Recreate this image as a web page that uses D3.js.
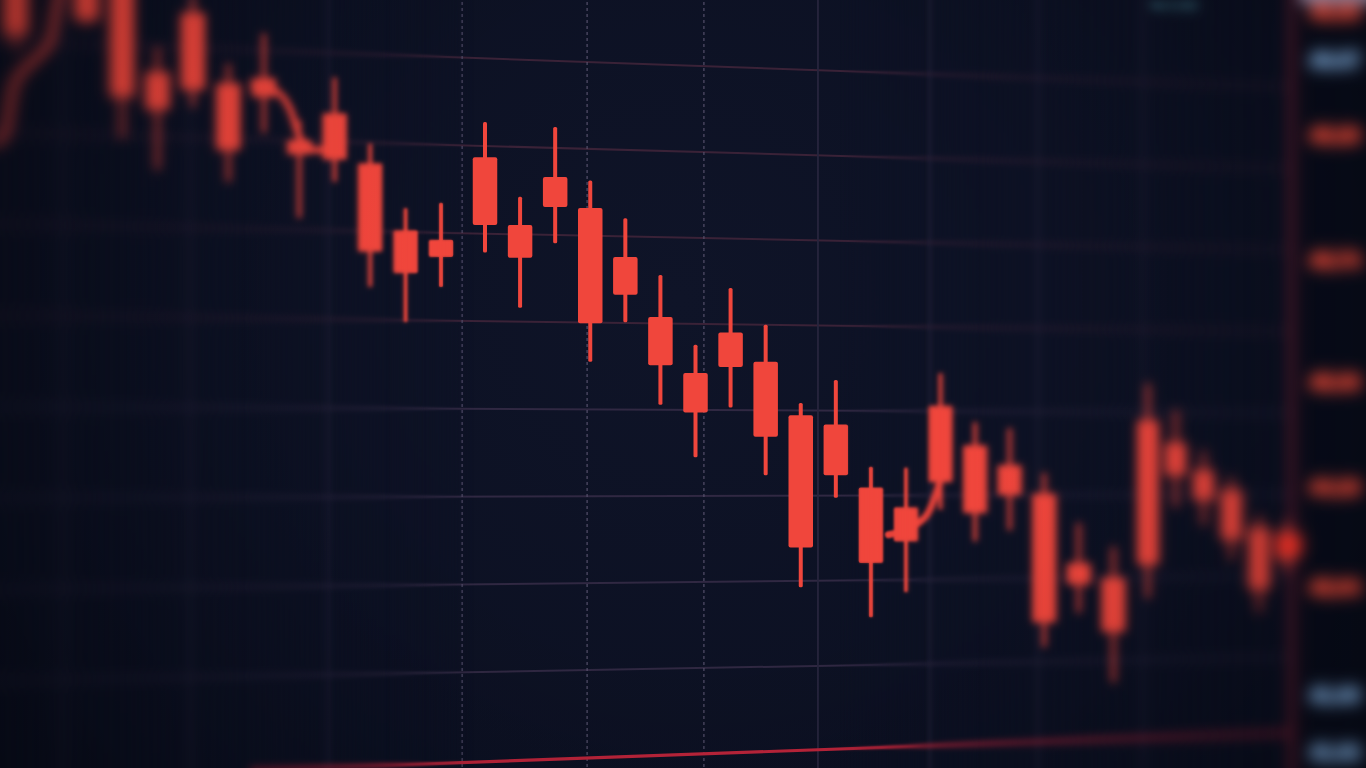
<!DOCTYPE html>
<html><head><meta charset="utf-8">
<script src="https://cdn.jsdelivr.net/npm/d3@7/dist/d3.min.js"></script>
<style>html,body{margin:0;padding:0;background:#0a0e1c;overflow:hidden;}svg{display:block}</style>
</head><body>
<svg id="chart" width="1366" height="768"></svg>
<script>
// ---------------- data ----------------
const candleIndex = [-3,-1,0,1,2,3,4,5,6,7,8,9,10,11,12,13,14,15,16,17,18,19,20,21,22,23,24,25,26,27,28,29,30,31,32,33,34];
const candleOpen  = [50.20,50.10,49.95,48.93,49.62,48.80,48.86,48.14,48.45,47.87,47.09,46.98,47.94,47.15,47.71,47.35,46.78,46.08,45.43,45.90,45.56,44.94,44.83,44.10,43.87,45.05,44.59,44.36,44.03,43.22,43.05,44.88,44.62,44.30,44.07,43.63,43.58];
const candleHigh  = [50.30,50.20,50.00,49.22,49.83,49.03,49.38,48.37,48.87,48.10,47.35,47.41,48.35,47.48,48.29,47.67,47.23,46.57,45.76,46.42,45.99,45.08,45.35,44.34,44.33,45.43,44.86,44.79,44.27,43.69,43.41,45.31,45.00,44.53,44.22,43.78,43.72];
const candleLow   = [49.19,49.48,48.16,47.79,48.52,47.65,48.22,47.23,47.65,46.43,46.02,46.43,46.83,46.19,46.94,45.56,46.02,45.06,44.45,45.03,44.24,42.94,43.98,42.59,42.88,43.84,43.47,43.60,42.24,42.64,41.83,42.81,43.87,43.66,43.26,42.65,43.12];
const candleClose = [49.36,49.53,48.64,48.49,48.72,48.02,48.64,47.97,47.91,46.84,46.59,46.78,47.15,46.77,47.36,46.01,46.34,45.52,44.97,45.50,44.69,43.40,44.24,43.22,43.47,44.16,43.80,44.01,42.53,42.97,42.42,43.20,44.24,43.95,43.49,42.91,43.26];

// moving-average line (null = gap)
const maIndex = [-3.6,-3.3,-3.05,-2.54,-2.03,-1.81,-1.69, 0, 3.7,4.3,4.75,5.05,5.5,5.9, 10, 21.5,22.26,22.69,23.0];
const maValue = [48.10,48.22,48.78,49.05,49.28,49.77,50.00, null, 48.78,48.72,48.49,48.14,48.02,48.05, null, 43.55,43.66,43.84,44.19];

const priceGrid = [49,48,47,46,45,44,43,42];
const timeGrid  = [-1.66,1.92,5.81,9.48,12.91,16.24,19.49,22.69,25.82,28.86];
const baselinePrice = 41;
const axisTickValues = [49.63,49.07,48.20,46.74,45.33,44.10,42.94,41.69,41.02];
const axisTickKind   = ["down","info","down","down","down","down","down","info","info"];
const lastPrice = 43.43;
const headerText = "Vol 2.41K";

// ---------------- setup ----------------
const W = 1366, H = 768;
const RED = "#f0463c";
const svg = d3.select("#chart");
const defs = svg.append("defs");

// perspective-like piecewise time scale and price scale
const x = d3.scaleLinear().domain([0,9,10,22,29,34]).range([122,441,485,906,1148,1287]);
const y = d3.scaleLinear().domain([48,41]).range([152,754]);

// depth-of-field profile (blur std by screen x)
const blurAt = d3.scaleLinear()
  .domain([-100,0,120,230,300,340,370,405,440,470,840,880,910,945,1010,1100,1150,1200,1285,1310,1466])
  .range([9,8,6.5,5,3.8,3,2.4,1.5,0.6,0,0,0.8,1.5,2.7,3.8,5,5.6,6.2,6.8,8,8.5]).clamp(true);
const levels = [0,1,2,3.3,4.8,6.5,8.5];

// background gradient
const bg = defs.append("radialGradient").attr("id","bgGrad").attr("gradientUnits","userSpaceOnUse")
  .attr("cx",680).attr("cy",300).attr("r",950);
bg.append("stop").attr("offset",0).attr("stop-color","#0f1428");
bg.append("stop").attr("offset",1).attr("stop-color","#090d1d");

// blur filters
levels.forEach((s,i)=>{
  if(i===0) return;
  defs.append("filter").attr("id","blur"+i).attr("filterUnits","userSpaceOnUse")
    .attr("color-interpolation-filters","sRGB")
    .attr("x",-200).attr("y",-200).attr("width",W+400).attr("height",H+400)
    .append("feGaussianBlur").attr("stdDeviation",s);
});

// crossfade masks
const xs = d3.range(0, W+1, 6);
const weights = xs.map(px=>{
  const b = blurAt(px);
  const w = levels.map(()=>0);
  let k = 0;
  while(k < levels.length-2 && b > levels[k+1]) k++;
  const f = Math.max(0, Math.min(1, (b-levels[k])/(levels[k+1]-levels[k])));
  w[k] = 1-f; w[k+1] = f;
  return w;
});
levels.forEach((s,i)=>{
  if(i===0) return;
  const gr = defs.append("linearGradient").attr("id","mg"+i).attr("gradientUnits","userSpaceOnUse")
    .attr("x1",0).attr("x2",W).attr("y1",0).attr("y2",0);
  xs.forEach((px,j)=>{
    const w = weights[j];
    let cum = 0; for(let q=0;q<=i;q++) cum += w[q];
    const m = cum > 1e-6 ? w[i]/cum : 0;
    gr.append("stop").attr("offset", px/W).attr("stop-color","#fff").attr("stop-opacity", m.toFixed(4));
  });
  defs.append("mask").attr("id","mask"+i).attr("maskUnits","userSpaceOnUse")
    .attr("x",-200).attr("y",-200).attr("width",W+400).attr("height",H+400)
    .append("rect").attr("x",-200).attr("y",-200).attr("width",W+400).attr("height",H+400)
    .attr("fill","url(#mg"+i+")");
});

// ---------------- scene ----------------
const scene = svg.append("g").attr("id","scene");
scene.append("rect").attr("x",-200).attr("y",-200).attr("width",W+400).attr("height",H+400).attr("fill","url(#bgGrad)");

// perspective tilt of horizontal lines
const VY = 466, VX = 700;
const tilt = (y0, px, D) => y0 + (VY - y0) * (px - VX) / D;

const grid = scene.append("g");
grid.selectAll("line.h").data(priceGrid).join("line").attr("class","h")
  .attr("x1",-20).attr("x2",1291)
  .attr("y1",d=>tilt(y(d),-20,11217)).attr("y2",d=>tilt(y(d),1291,11217))
  .attr("stroke",(d,i)=> i<4 ? "#3a2237" : "#302842").attr("stroke-width",2);
grid.selectAll("line.v").data(timeGrid).join("line").attr("class","v")
  .attr("x1",d=>x(d)).attr("x2",d=>x(d)).attr("y1",-10).attr("y2",H+10)
  .attr("stroke",d=> (x(d)>440 && x(d)<720) ? "#5a5470" : "#27253d")
  .attr("stroke-width",d=> (x(d)>440 && x(d)<720) ? 1.1 : 1.8)
  .attr("stroke-dasharray",d=> (x(d)>440 && x(d)<720) ? "3,3" : null);

// red baseline
scene.append("line")
  .attr("x1",250).attr("x2",1291)
  .attr("y1",tilt(y(baselinePrice),250,8000)).attr("y2",tilt(y(baselinePrice),1291,8000))
  .attr("stroke","#bb243a").attr("stroke-width",3.2);

// axis border and price panel
scene.append("rect").attr("x",1295).attr("y",-200).attr("width",300).attr("height",H+400).attr("fill","#080c1b");
scene.append("line").attr("x1",1292).attr("x2",1292).attr("y1",-20).attr("y2",H+20)
  .attr("stroke","#5c1a2c").attr("stroke-width",7);

// moving average line
const maPts = maIndex.map((t,i)=>({t, v:maValue[i]}));
scene.append("path").datum(maPts)
  .attr("d", d3.line().defined(d=>d.v!=null).x(d=>x(d.t)).y(d=>y(d.v)).curve(d3.curveMonotoneX))
  .attr("fill","none").attr("stroke","#e8423a").attr("stroke-width",7).attr("stroke-linecap","round");

// candles
const candles = candleIndex.map((t,i)=>({t, o:candleOpen[i], h:candleHigh[i], l:candleLow[i], c:candleClose[i]}));
const bw = t => Math.min(24.5, Math.max(21, 0.7*(x(t+0.5)-x(t-0.5))));
const cg = scene.append("g").selectAll("g").data(candles).join("g");
cg.append("rect")
  .attr("x",d=>x(d.t)-2).attr("width",4)
  .attr("y",d=>y(d.h)).attr("height",d=>y(d.l)-y(d.h))
  .attr("rx",1.5).attr("fill",RED);
cg.append("rect")
  .attr("x",d=>x(d.t)-bw(d.t)/2).attr("width",d=>bw(d.t))
  .attr("y",d=>y(Math.max(d.o,d.c))).attr("height",d=>Math.max(2,Math.abs(y(d.o)-y(d.c))))
  .attr("rx",2).attr("fill",RED);

// last price marker on axis
scene.append("rect").attr("x",1276).attr("y",y(lastPrice)-10).attr("width",26).attr("height",20)
  .attr("rx",3).attr("fill","#ff3328");

// axis labels
scene.append("rect").attr("x",1300).attr("y",-14).attr("width",80).attr("height",17).attr("fill","#c4aece");
scene.append("g").selectAll("text").data(axisTickValues).join("text")
  .attr("x",1335).attr("y",d=>y(d)).attr("dy","0.35em").attr("text-anchor","middle")
  .attr("font-family","Liberation Sans, Arial, sans-serif").attr("font-weight","bold").attr("font-size",20)
  .attr("stroke",(d,i)=>axisTickKind[i]==="info" ? "#80aee0" : "#ff4d3a").attr("stroke-width",3.5)
  .attr("stroke-linejoin","round")
  .attr("fill",(d,i)=>axisTickKind[i]==="info" ? "#80aee0" : "#ff4d3a")
  .text(d=>d3.format(".2f")(d));

// header text (top strip)
scene.append("text").attr("x",1150).attr("y",9)
  .attr("font-family","Liberation Sans, Arial, sans-serif").attr("font-weight","bold").attr("font-size",11)
  .attr("fill","#4f9aa8").text(headerText);

// ---------------- depth of field copies ----------------
levels.forEach((s,i)=>{
  if(i===0) return;
  svg.append("use").attr("href","#scene")
    .attr("filter","url(#blur"+i+")").attr("mask","url(#mask"+i+")");
});

// vignette
const vg = defs.append("radialGradient").attr("id","vig").attr("gradientUnits","userSpaceOnUse")
  .attr("cx",700).attr("cy",320).attr("r",950);
d3.range(0, 1.0001, 0.05).forEach(o=>{
  const a = o < 0.3 ? 0 : 0.45*Math.pow((o-0.3)/0.7, 1.6);
  vg.append("stop").attr("offset",o).attr("stop-color","#000").attr("stop-opacity",a.toFixed(4));
});
svg.append("rect").attr("width",W).attr("height",H).attr("fill","url(#vig)").attr("pointer-events","none");
</script>
</body></html>
